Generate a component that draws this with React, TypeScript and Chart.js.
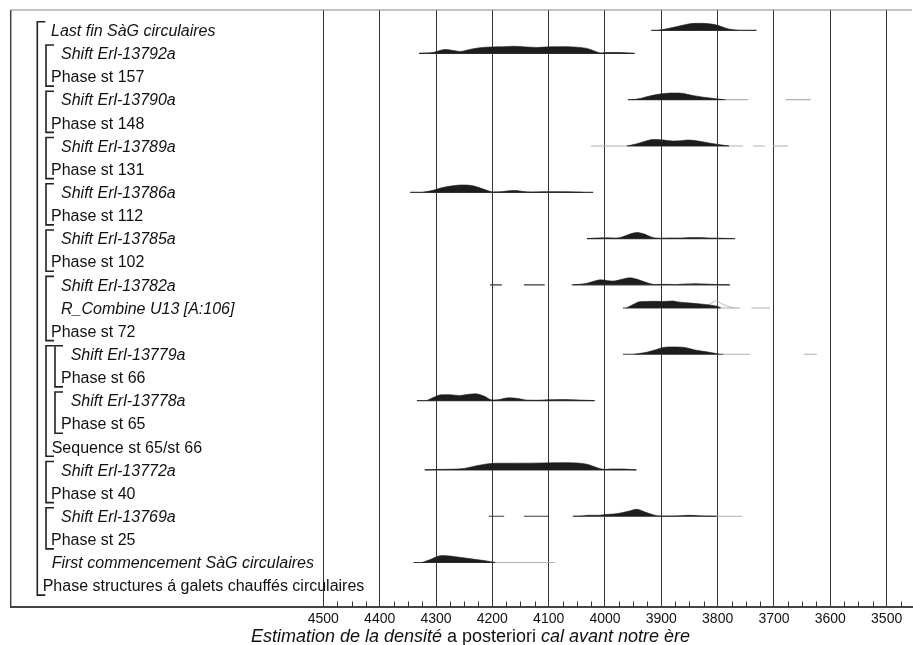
import React, { useEffect, useRef } from "react";
import { Chart, registerables } from "chart.js";
Chart.register(...registerables);

// ---------- data ----------
const ROW_LABELS = [
  "Last fin SàG circulaires",
  "Shift Erl-13792a",
  "Phase st 157",
  "Shift Erl-13790a",
  "Phase st 148",
  "Shift Erl-13789a",
  "Phase st 131",
  "Shift Erl-13786a",
  "Phase st 112",
  "Shift Erl-13785a",
  "Phase st 102",
  "Shift Erl-13782a",
  "R_Combine U13 [A:106]",
  "Phase st 72",
  "Shift Erl-13779a",
  "Phase st 66",
  "Shift Erl-13778a",
  "Phase st 65",
  "Sequence st 65/st 66",
  "Shift Erl-13772a",
  "Phase st 40",
  "Shift Erl-13769a",
  "Phase st 25",
  "First commencement SàG circulaires",
  "Phase structures á galets chauffés circulaires",
];

const TICK_YEARS = [4500, 4400, 4300, 4200, 4100, 4000, 3900, 3800, 3700, 3600, 3500];

// brackets: [first row, last row, nesting level]
const BRACKETS: [number, number, number][] = [
  [0, 24, 0],
  [1, 2, 1], [3, 4, 1], [5, 6, 1], [7, 8, 1], [9, 10, 1], [11, 13, 1],
  [14, 18, 1], [14, 15, 2], [16, 17, 2],
  [19, 20, 1], [21, 22, 1],
];

// densities: [year cal BC, relative density]
const DENS_LAST_FIN: [number, number][] = [[3905,0],[3890,1.5],[3870,4],[3850,6.5],[3835,7],[3815,6.5],[3800,5],[3790,3],[3780,1.2],[3765,0]];
const DENS_13792: [number, number][] = [[4330,0],[4305,1],[4284,4],[4270,3],[4257,2],[4240,4],[4222,5.7],[4201,6.5],[4180,6.7],[4163,7.2],[4140,6.5],[4121,6],[4098,6.6],[4075,6.8],[4056,6.5],[4032,5],[4015,1.7],[4008,0.3],[3997,1],[3980,1],[3967,0.8],[3950,0]];
const DENS_13790: [number, number][] = [[3952,0],[3935,1.5],[3926,3],[3905,5.5],[3890,6.5],[3875,6.7],[3861,6.3],[3844,4.2],[3825,2.5],[3810,1.5],[3796,0.5],[3785,0]];
const DENS_13789: [number, number][] = [[3961,0],[3945,2],[3930,4.5],[3915,6.5],[3900,6.2],[3880,5],[3865,5.3],[3852,6],[3835,5],[3815,3],[3795,1.2],[3780,0]];
const DENS_13786: [number, number][] = [[4323,0],[4305,2],[4290,4.5],[4270,6.5],[4255,7.3],[4240,7],[4225,5],[4210,2],[4199,0.3],[4185,0.5],[4170,1.5],[4160,1.8],[4145,0.8],[4130,0.2],[4110,0.5],[4080,0.5],[4050,0.2],[4040,0]];
const DENS_13785: [number, number][] = [[4032,0],[4015,0.5],[3995,0.8],[3980,0.5],[3970,1.5],[3958,4],[3944,6],[3930,4.5],[3918,1.5],[3905,0.3],[3885,0.6],[3865,0.5],[3850,1],[3830,1],[3815,0.5],[3795,0.4],[3775,0]];
const DENS_13782: [number, number][] = [[4060,0],[4045,0.5],[4032,1.5],[4020,3.5],[4008,5],[3995,4.2],[3985,3.8],[3970,5.5],[3956,7],[3940,5],[3925,2],[3912,0.3],[3890,0.5],[3875,0.2],[3860,0.8],[3840,1.2],[3820,0.8],[3800,0.3],[3780,0]];
const DENS_COMBINE: [number, number][] = [[3962,0],[3950,3.5],[3938,6.3],[3925,6.5],[3915,6.7],[3897,6.5],[3880,7],[3870,6],[3855,5.2],[3830,4],[3808,2.5],[3800,1.5],[3794,0]];
const PRIOR_COMBINE: [number, number][] = [[3830,0],[3815,3.5],[3802,7],[3792,4],[3781,1.5],[3770,0]];
const DENS_13779: [number, number][] = [[3948,0],[3926,2],[3910,4.5],[3897,6.8],[3880,7.3],[3862,7],[3838,4],[3820,2.5],[3805,1],[3797,0]];
const DENS_13778: [number, number][] = [[4316,0],[4305,3],[4290,5.8],[4275,5.8],[4258,5],[4245,6],[4230,6.7],[4215,4.5],[4200,0.5],[4190,0.8],[4170,2.8],[4155,2],[4140,0.5],[4120,0.3],[4100,0.8],[4070,1],[4045,0.5],[4030,0.2],[4020,0]];
const DENS_13772: [number, number][] = [[4320,0],[4300,0.5],[4270,0.8],[4250,1.5],[4230,4],[4210,6],[4195,6.7],[4150,6.8],[4110,7],[4080,7.3],[4050,7],[4030,5.5],[4015,2.5],[4000,0.5],[3990,1],[3970,1],[3950,0.2],[3945,0]];
const DENS_13769: [number, number][] = [[4057,0],[4040,0.3],[4030,1],[4010,1],[4000,1.8],[3985,2.2],[3970,3.5],[3955,5.5],[3944,7],[3930,4.5],[3915,1.5],[3902,0.2],[3880,0.2],[3865,0.6],[3850,0.9],[3835,0.6],[3820,0.2],[3800,0]];
const DENS_FIRST: [number, number][] = [[4325,0],[4310,3],[4298,6],[4288,7],[4275,6.5],[4255,5],[4235,3.5],[4215,2],[4200,0.6],[4195,0]];

// range lines: [from, to] in years; dark = main, grey = light tails
const LINE_LAST_FIN: [number, number][] = [[3918, 3731]];
const LINE_13792: [number, number][] = [[4330, 3947]];
const LINE_13790: [number, number][] = [[3959, 3790]];
const GREY_13790: [number, number][] = [[3790, 3746], [3679, 3635]];
const LINE_13789: [number, number][] = [[3961, 3780]];
const GREY_13789: [number, number][] = [[4025, 3961], [3780, 3755], [3737, 3716], [3702, 3675]];
const LINE_13786: [number, number][] = [[4346, 4021]];
const LINE_13785: [number, number][] = [[4032, 3769]];
const LINE_13782: [number, number][] = [[4204, 4183], [4144, 4107], [4057, 3778]];
const LINE_COMBINE: [number, number][] = [[3968, 3796]];
const GREY_COMBINE: [number, number][] = [[3796, 3760], [3740, 3707]];
const LINE_13779: [number, number][] = [[3968, 3790]];
const GREY_13779: [number, number][] = [[3790, 3743], [3647, 3624]];
const LINE_13778: [number, number][] = [[4334, 4018]];
const LINE_13772: [number, number][] = [[4320, 3944]];
const LINE_13769: [number, number][] = [[4206, 4179], [4144, 4101], [4057, 3802]];
const GREY_13769: [number, number][] = [[3802, 3757]];
const LINE_FIRST: [number, number][] = [[4340, 4195]];
const GREY_FIRST: [number, number][] = [[4195, 4089]];

const DENSITY_SERIES: [number, [number, number][]][] = [
  [0, DENS_LAST_FIN], [1, DENS_13792], [3, DENS_13790], [5, DENS_13789], [7, DENS_13786],
  [9, DENS_13785], [11, DENS_13782], [12, DENS_COMBINE], [14, DENS_13779], [16, DENS_13778],
  [19, DENS_13772], [21, DENS_13769], [23, DENS_FIRST],
];
const PRIOR_SERIES: [number, [number, number][]][] = [[12, PRIOR_COMBINE]];
const DARK_LINES: [number, [number, number][]][] = [
  [0, LINE_LAST_FIN], [1, LINE_13792], [3, LINE_13790], [5, LINE_13789], [7, LINE_13786],
  [9, LINE_13785], [11, LINE_13782], [12, LINE_COMBINE], [14, LINE_13779], [16, LINE_13778],
  [19, LINE_13772], [21, LINE_13769], [23, LINE_FIRST],
];
const GREY_LINES: [number, [number, number][]][] = [
  [3, GREY_13790], [5, GREY_13789], [12, GREY_COMBINE], [14, GREY_13779], [21, GREY_13769], [23, GREY_FIRST],
];

// ---------- style / layout ----------
const FONT = '"Liberation Sans", Arial, sans-serif';
const FILL = "#1d1d1d";
const ROW_PX = 23.14;
const DENSITY_SCALE = 1 / ROW_PX;
const LABEL_STYLE: { x: number; italic: boolean }[] = [
  { x: 51, italic: true }, { x: 61, italic: true }, { x: 51, italic: false },
  { x: 61, italic: true }, { x: 51, italic: false }, { x: 61, italic: true },
  { x: 51, italic: false }, { x: 61, italic: true }, { x: 51, italic: false },
  { x: 61, italic: true }, { x: 51, italic: false }, { x: 61, italic: true },
  { x: 61, italic: true }, { x: 51, italic: false }, { x: 70.7, italic: true },
  { x: 61, italic: false }, { x: 70.7, italic: true }, { x: 61, italic: false },
  { x: 51.7, italic: false }, { x: 61, italic: true }, { x: 51, italic: false },
  { x: 61, italic: true }, { x: 51, italic: false }, { x: 51.7, italic: true },
  { x: 42.7, italic: false },
];
const BRACKET_X = [37.3, 46, 55];
const TITLE_PARTS: [string, boolean][] = [
  ["Estimation de la densité ", true],
  ["a posteriori", false],
  [" cal avant notre ère", true],
];

const decorPlugin = {
  id: "decor",
  afterDraw(chart: any) {
    const { ctx, chartArea } = chart;
    const xs = chart.scales.x;
    const ys = chart.scales.y;
    ctx.save();
    // frame
    ctx.strokeStyle = "#8a8a8a";
    ctx.lineWidth = 1.2;
    ctx.beginPath();
    ctx.moveTo(chartArea.left, chartArea.top);
    ctx.lineTo(chartArea.right, chartArea.top);
    ctx.stroke();
    ctx.strokeStyle = "#444";
    ctx.lineWidth = 1.5;
    ctx.beginPath();
    ctx.moveTo(chartArea.left, chartArea.top);
    ctx.lineTo(chartArea.left, chartArea.bottom);
    ctx.stroke();
    // minor ticks every 25 years
    ctx.strokeStyle = "#333";
    ctx.lineWidth = 1;
    for (let v = TICK_YEARS[0] - 25; v >= TICK_YEARS[TICK_YEARS.length - 1] - 25; v -= 25) {
      if (v % 100 === 0) continue;
      const px = Math.round(xs.getPixelForValue(v)) + 0.5;
      ctx.beginPath();
      ctx.moveTo(px, chartArea.bottom - 5);
      ctx.lineTo(px, chartArea.bottom);
      ctx.stroke();
    }
    // brackets
    ctx.strokeStyle = "#222";
    ctx.lineWidth = 1.6;
    BRACKETS.forEach(([a, b, lvl]) => {
      const x = BRACKET_X[lvl];
      const y0 = ys.getPixelForValue(a) - 8.5;
      const y1 = ys.getPixelForValue(b) + 9.5;
      ctx.beginPath();
      ctx.moveTo(x + 8, y0);
      ctx.lineTo(x, y0);
      ctx.lineTo(x, y1);
      ctx.lineTo(x + 8, y1);
      ctx.stroke();
    });
    // labels
    ctx.fillStyle = "#111";
    ctx.textBaseline = "alphabetic";
    ctx.textAlign = "left";
    ROW_LABELS.forEach((lab, i) => {
      const st = LABEL_STYLE[i];
      ctx.font = (st.italic ? "italic " : "") + "16px " + FONT;
      ctx.fillText(lab, st.x, ys.getPixelForValue(i) + 5.7);
    });
    // axis title
    let total = 0;
    TITLE_PARTS.forEach(([t, it]) => {
      ctx.font = (it ? "italic " : "") + "18px " + FONT;
      total += ctx.measureText(t).width;
    });
    let tx = 470.5 - total / 2;
    TITLE_PARTS.forEach(([t, it]) => {
      ctx.font = (it ? "italic " : "") + "18px " + FONT;
      ctx.fillText(t, tx, 642);
      tx += ctx.measureText(t).width;
    });
    ctx.restore();
  },
};

export default function App() {
  const ref = useRef<HTMLCanvasElement>(null);
  useEffect(() => {
    const canvas = ref.current!;
    const datasets: any[] = [];
    const base = { pointRadius: 0, pointHoverRadius: 0 };
    DENSITY_SERIES.forEach(([row, pts]) => {
      datasets.push({
        ...base,
        data: pts.map(([x, d]) => ({ x, y: row - d * DENSITY_SCALE })),
        fill: { value: row },
        backgroundColor: FILL,
        borderColor: FILL,
        borderWidth: 0.6,
        cubicInterpolationMode: "monotone",
      });
    });
    PRIOR_SERIES.forEach(([row, pts]) => {
      datasets.push({
        ...base,
        data: pts.map(([x, d]) => ({ x, y: row - d * DENSITY_SCALE })),
        fill: false,
        borderColor: "#a8a8a8",
        borderWidth: 0.8,
        cubicInterpolationMode: "monotone",
      });
    });
    DARK_LINES.forEach(([row, segs]) => {
      segs.forEach(([a, b]) => {
        datasets.push({ ...base, data: [{ x: a, y: row }, { x: b, y: row }], fill: false, borderColor: "#3a3a3a", borderWidth: 1.2 });
      });
    });
    GREY_LINES.forEach(([row, segs]) => {
      segs.forEach(([a, b]) => {
        datasets.push({ ...base, data: [{ x: a, y: row }, { x: b, y: row }], fill: false, borderColor: "#b0b0b0", borderWidth: 1.2 });
      });
    });
    const topPx = 10;
    const firstRowPx = 30.3;
    const bottomPx = 606.5;
    const chart = new Chart(canvas, {
      type: "line",
      data: { datasets },
      options: {
        animation: false,
        responsive: false,
        events: [],
        layout: { padding: { left: 10.7, top: topPx, right: 1, bottom: 0 } },
        plugins: { legend: { display: false }, tooltip: { enabled: false }, title: { display: false } },
        scales: {
          x: {
            type: "linear",
            min: 3455,
            max: 5055,
            reverse: true,
            afterBuildTicks: (s: any) => {
              s.ticks = TICK_YEARS.map((v) => ({ value: v }));
            },
            afterFit: (s: any) => {
              s.height = 645 - bottomPx;
            },
            ticks: {
              autoSkip: false,
              maxRotation: 0,
              padding: 4,
              color: "#111",
              font: { family: FONT, size: 14 },
              callback: (v: any) => String(v),
            },
            grid: { color: "#333", lineWidth: 1, drawTicks: false },
            border: { display: true, color: "#444", width: 2 },
          },
          y: {
            type: "linear",
            display: false,
            reverse: true,
            min: (topPx - firstRowPx) / ROW_PX,
            max: (bottomPx - firstRowPx) / ROW_PX,
          },
        },
      },
      plugins: [decorPlugin],
    } as any);
    return () => chart.destroy();
  }, []);
  return (
    <div style={{ position: "fixed", left: 0, top: 0, width: 913, height: 645, background: "#fff" }}>
      <canvas ref={ref} width={913} height={645} style={{ display: "block" }} />
    </div>
  );
}
